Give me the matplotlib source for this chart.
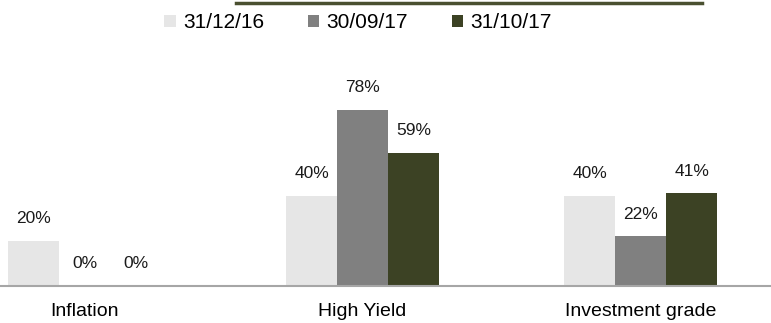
import matplotlib.pyplot as plt
import numpy as np
from matplotlib.patches import Patch
from matplotlib.lines import Line2D

plt.rcParams['font.family'] = ['Liberation Sans', 'DejaVu Sans']

categories = ['Inflation', 'High Yield', 'Investment grade']
series_names = ['31/12/16', '30/09/17', '31/10/17']
values_dec16 = [20, 40, 40]
values_sep17 = [0, 78, 22]
values_oct17 = [0, 59, 41]
colors = ['#e6e6e6', '#808080', '#3c4224']


def main():
    fig = plt.figure(figsize=(7.71, 3.23), dpi=100)
    ax = fig.add_axes([0.0, 0.1146, 1.0, 0.7616])

    x = np.arange(len(categories))
    width = 0.1835
    all_series = [values_dec16, values_sep17, values_oct17]
    for i, (vals, col) in enumerate(zip(all_series, colors)):
        pos = x + (i - 1) * width
        ax.bar(pos, vals, width, color=col, label=series_names[i])
        for px, v in zip(pos, vals):
            ax.annotate(f'{v}%', (px, v), xytext=(0, 16), textcoords='offset points',
                        ha='center', va='center', fontsize=12.5, color='#1a1a1a')

    ax.set_xlim(-0.304, 2.469)
    ax.set_ylim(0, 109)
    ax.set_xticks(x)
    ax.set_xticklabels(categories, fontsize=14)
    ax.tick_params(axis='x', length=0, pad=12)
    ax.set_yticks([])
    for s in ['top', 'left', 'right']:
        ax.spines[s].set_visible(False)
    ax.spines['bottom'].set_color('#a6a6a6')
    ax.spines['bottom'].set_linewidth(1.5)

    handles = [Patch(facecolor=c, edgecolor='none') for c in colors]
    fig.legend(handles, series_names, loc='center', bbox_to_anchor=(358 / 771, 1 - 23 / 323),
               ncol=3, frameon=False, fontsize=15, handlelength=0.55, handleheight=0.55,
               handletextpad=0.35, columnspacing=2.1)

    # olive rule at the top
    fig.add_artist(Line2D([236 / 771, 702 / 771], [1 - 3 / 323, 1 - 3 / 323],
                          color='#4a5030', linewidth=2.5, transform=fig.transFigure))

    fig.savefig('out.png', dpi=100)


if __name__ == '__main__':
    main()
